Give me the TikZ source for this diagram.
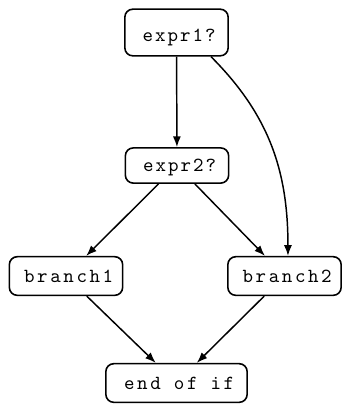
\documentclass[tikz,border=0pt]{standalone}
\usepackage{fontspec}
\usetikzlibrary{arrows.meta}
\newfontfamily\blockfont{lmmono10-regular}[Extension=.otf,LetterSpace=13]
\newfontfamily\testfont{lmmono10-regular}[Extension=.otf,LetterSpace=10]
\tikzset{
	thick,
	>={Latex[length=8pt,width=6pt]},
	box/.style = {
			draw, rounded corners=6pt,
			line width = 1.2pt,
			inner xsep = 0pt,
			inner ysep = 3pt,
			minimum width = 85pt,
			font = \fontsize{15}{18}\blockfont,
			text height = 16pt,
			text depth = 7pt,
			execute at begin node = {\hspace{4pt}},
		},
	test/.style = {
			box,
			minimum width = 77.5pt,
			font = \fontsize{15}{18}\testfont,
			text height = 15pt,
			text depth = 5.4pt,
		},
	flow/.style = {->, line width=1.1pt},
}
\begin{document}
\begin{tikzpicture}[x=0.75pt, y=-0.75pt]
	\useasboundingbox (0,0) rectangle (342,405);

	% tests
	\node[test, text height=21pt, text depth=8pt] (expr1) at (176.5,32.5) {expr1?};
	\node[test] (expr2) at (177,165.5) {expr2?};

	% branches
	\node[box] (branch1) at (66,276) {branch1};
	\node[box] (branch2) at (284.5,276) {branch2};
	\node[box, minimum width=106pt] (endif) at (176.5,383) {end of if};

	\draw[flow] (expr1) -- (expr2);
	\draw[flow] (expr1.-35) to[out=-45, in=90] ([xshift=2.6pt]branch2.north);
	\draw[flow] (expr2) -- (branch1);
	\draw[flow] (expr2) -- (branch2);
	\draw[flow] (branch1) -- (endif);
	\draw[flow] (branch2) -- (endif);
\end{tikzpicture}
\end{document}
